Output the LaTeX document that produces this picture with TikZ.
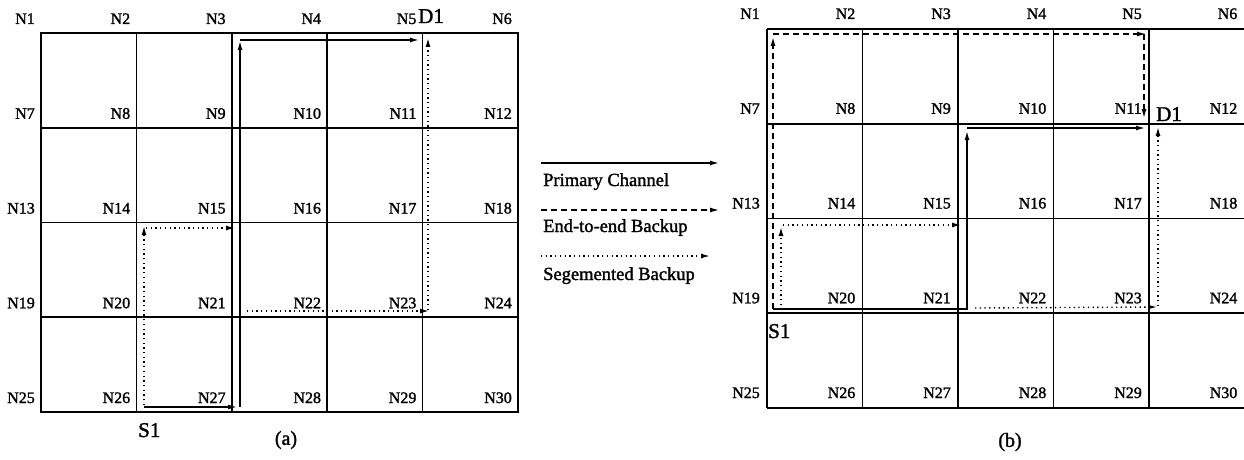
\documentclass[tikz,border=0pt]{standalone}
\usepackage{fontspec}
\setmainfont{Liberation Serif}
\newfontfamily\heavy{Liberation Serif}[FakeBold=1.6]
\usetikzlibrary{arrows.meta}
\begin{document}
\begin{tikzpicture}[x=1pt,y=-1pt,
  gridline/.style={line width=1.6pt},
  arr/.style={-{Latex[length=9pt,width=5pt]}},
  prim/.style={line width=1.4pt},
  endb/.style={line width=1.3pt,dash pattern=on 6pt off 4pt},
  segb/.style={line width=1.4pt,dash pattern=on 1.3pt off 3.4pt},
  lab/.style={font=\heavy\fontsize{16}{16}\selectfont,inner sep=0pt,anchor=base east},
  big/.style={font=\heavy\fontsize{21}{21}\selectfont,inner sep=0pt,anchor=base west},
  leg/.style={font=\heavy\fontsize{18.5}{18.5}\selectfont,inner sep=0pt,anchor=base west},
  captext/.style={font=\heavy\fontsize{20}{20}\selectfont,inner sep=0pt}
]
\useasboundingbox (0,0) rectangle (1244,460);

% ---------- grid (a) ----------
\draw[gridline] (41,33) rectangle (518,412);
\foreach \c in {1,...,4}{
  \draw[gridline] ({41+95.4*\c},33) -- ({41+95.4*\c},412);
}
\foreach \r in {1,...,3}{
  \draw[gridline] (41,{33+94.75*\r}) -- (518,{33+94.75*\r});
}
\foreach \r in {0,...,4}{
  \foreach \c in {0,...,5}{
    \pgfmathtruncatemacro{\n}{6*\r+\c+1}
    \node[lab] (a\n) at ({41+95.4*\c-6},{33+94.75*\r-9}) {N\n};
  }
}

% ---------- grid (b) ----------
\foreach \r in {0,...,4}{
  \draw[gridline] (767,{29+94.75*\r}) -- (1244,{29+94.75*\r});
}
\foreach \c in {0,...,4}{
  \draw[gridline] ({767+95.5*\c},29) -- ({767+95.5*\c},408);
}
\foreach \r in {0,...,4}{
  \foreach \c in {0,...,5}{
    \pgfmathtruncatemacro{\n}{6*\r+\c+1}
    \node[lab] (b\n) at ({767+95.5*\c-7},{29+94.75*\r-10}) {N\n};
  }
}

% ---------- paths (a) ----------
\coordinate (pa1) at (144,407); \coordinate (pa2) at (237,407);
\coordinate (pa3) at (240,407); \coordinate (pa4) at (240,41);
\coordinate (pa5) at (240,40);  \coordinate (pa6) at (419,40);
\draw[prim,arr] (pa1) -- (pa2);
\draw[prim,arr] (pa3) -- (pa4);
\draw[prim,arr] (pa5) -- (pa6);

\coordinate (sa1) at (144,405); \coordinate (sa2) at (144,226);
\coordinate (sa3) at (146,228); \coordinate (sa4) at (235,228);
\draw[segb,arr] (sa1) -- (sa2);
\draw[segb,arr] (sa3) -- (sa4);
\coordinate (sb1) at (247,311); \coordinate (sb2) at (429,311);
\coordinate (sb3) at (428,310); \coordinate (sb4) at (428,38);
\draw[segb,arr] (sb1) -- (sb2);
\draw[segb,arr] (sb3) -- (sb4);

\node[big] (da) at (418,23) {D1};
\node[big] (sa) at (138,437) {S1};
\node[captext] (capa) at (286,440) {(a)};

% ---------- paths (b) ----------
\coordinate (pb1) at (773,309); \coordinate (pb2) at (967,309);
\coordinate (pb3) at (967,131);
\coordinate (pb4) at (967,128); \coordinate (pb5) at (1145,128);
\draw[prim,arr] (pb1) -- (pb2) -- (pb3);
\draw[prim,arr] (pb4) -- (pb5);

\coordinate (eb1) at (773,309); \coordinate (eb2) at (773,37);
\coordinate (eb3) at (773,34);  \coordinate (eb4) at (1146,34);
\coordinate (eb5) at (1144,34); \coordinate (eb6) at (1144,118);
\draw[endb,arr] (eb1) -- (eb2);
\draw[endb,arr] (eb3) -- (eb4);
\draw[endb,arr] (eb5) -- (eb6);

\coordinate (sc1) at (781,305); \coordinate (sc2) at (781,227);
\coordinate (sc3) at (783,225); \coordinate (sc4) at (961,225);
\draw[segb,arr] (sc1) -- (sc2);
\draw[segb,arr] (sc3) -- (sc4);
\coordinate (sd1) at (975,308); \coordinate (sd2) at (1157,307);
\coordinate (sd3) at (1158,306); \coordinate (sd4) at (1158,127);
\draw[segb,arr] (sd1) -- (sd2);
\draw[segb,arr] (sd3) -- (sd4);

\node[big] (db) at (1156,121) {D1};
\node[big] (sbb) at (768,338) {S1};
\node[captext] (capb) at (1010,442) {(b)};

% ---------- legend ----------
\coordinate (l1a) at (541,163); \coordinate (l1b) at (719,163);
\coordinate (l2a) at (541,210); \coordinate (l2b) at (719,210);
\coordinate (l3a) at (541,256); \coordinate (l3b) at (710,256);
\draw[prim,arr] (l1a) -- (l1b);
\draw[endb,arr] (l2a) -- (l2b);
\draw[segb,arr] (l3a) -- (l3b);
\node[leg] (t1) at (543,186) {Primary Channel};
\node[leg] (t2) at (543,232) {End-to-end Backup};
\node[leg] (t3) at (543,280) {Segemented Backup};
\end{tikzpicture}
\end{document}
